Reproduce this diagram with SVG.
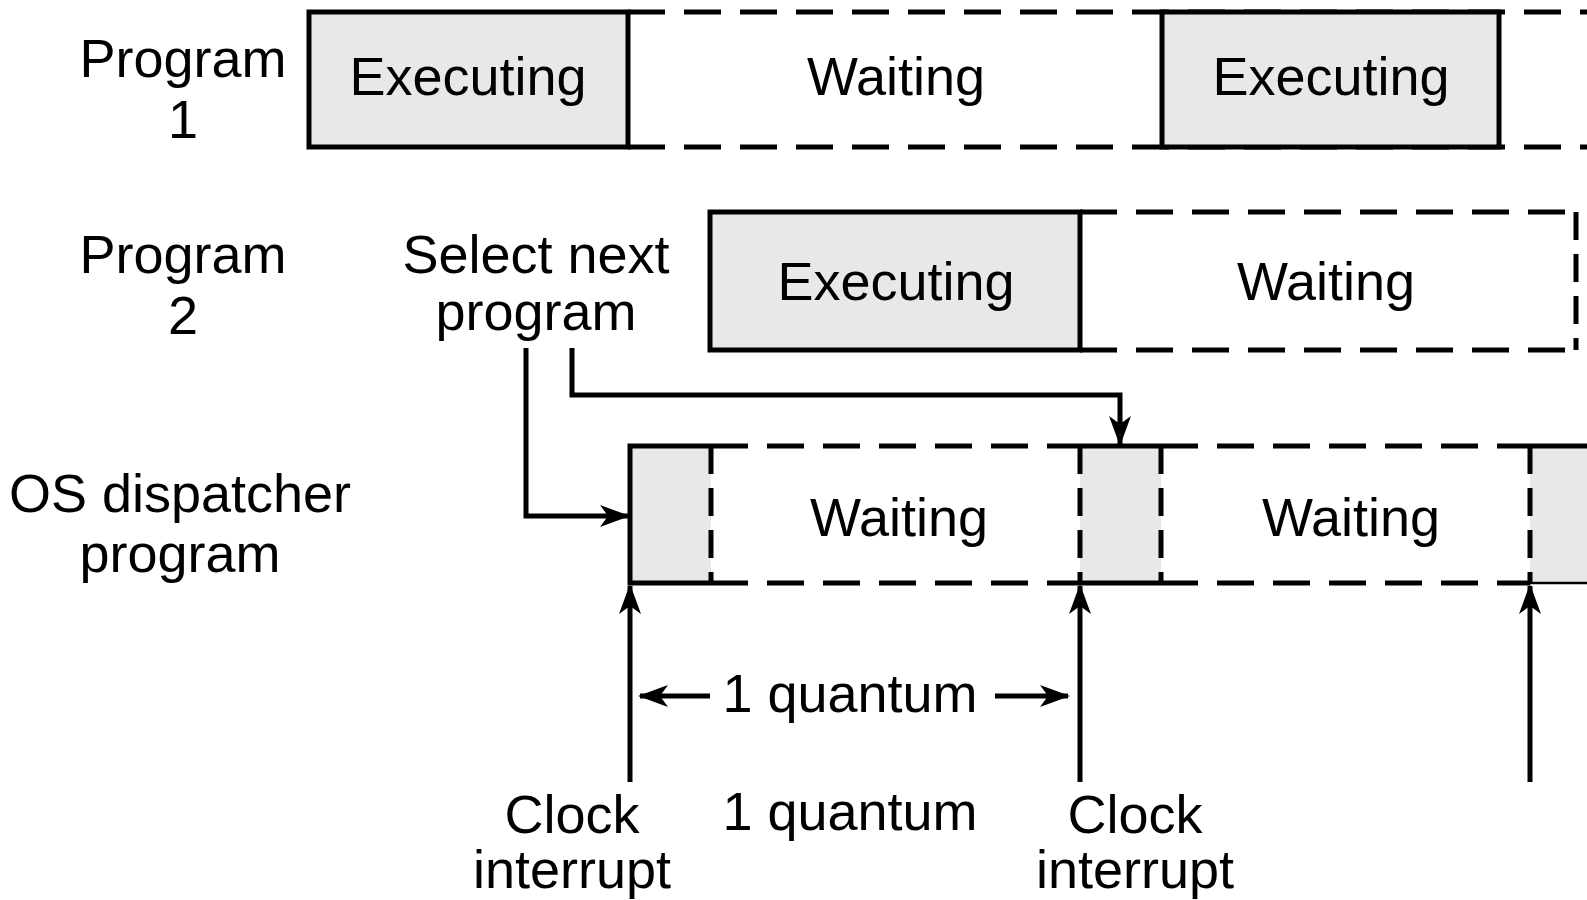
<svg xmlns="http://www.w3.org/2000/svg" width="1587" height="900" viewBox="0 0 1587 900">
<style>
text{font-family:"Liberation Sans",Arial,sans-serif;font-size:54px;fill:#000;text-anchor:middle}
.box{fill:#e8e8e8;stroke:#000;stroke-width:5}
.solid{stroke:#000;stroke-width:5;fill:none}
.dash{stroke:#000;stroke-width:5;fill:none;stroke-dasharray:37 19}
.vdash{stroke:#000;stroke-width:5;fill:none;stroke-dasharray:28 14}
.gray{fill:#e8e8e8;stroke:none}
.conn{stroke:#000;stroke-width:5;fill:none}
</style>
<defs>
<marker id="arr" viewBox="0 -12 30 24" refX="28" refY="0" markerWidth="30" markerHeight="24" markerUnits="userSpaceOnUse" orient="auto">
<path d="M30,0 L0,-11 L8,0 L0,11 Z" fill="#000"/>
</marker>
</defs>

<g id="labels">
<text x="183" y="77">Program</text>
<text x="183" y="138">1</text>
<text x="183" y="273">Program</text>
<text x="183" y="334">2</text>
<text x="180" y="512">OS dispatcher</text>
<text x="180" y="572">program</text>
</g>

<g id="program1">
<path class="dash" d="M628,12 H1587 M628,147 H1587"/>
<rect id="p1-exec1" class="box" x="309" y="12" width="319" height="135"/>
<text x="468" y="95">Executing</text>
<text x="896" y="95">Waiting</text>
<rect id="p1-exec2" class="box" x="1162" y="12" width="337" height="135"/>
<text x="1331" y="95">Executing</text>
</g>

<g id="program2">
<path class="dash" d="M1080,212 H1576 M1080,350 H1576"/>
<path class="vdash" d="M1576,212 V350"/>
<rect id="p2-exec" class="box" x="710" y="212" width="370" height="138"/>
<text x="896" y="300">Executing</text>
<text x="1326" y="300">Waiting</text>
</g>

<g id="select-next">
<text x="536" y="273">Select next</text>
<text x="536" y="330">program</text>
</g>

<g id="os-dispatcher">
<rect class="gray" x="630" y="446" width="81" height="137"/>
<rect class="gray" x="1080" y="446" width="81" height="137"/>
<rect class="gray" x="1530" y="446" width="57" height="137"/>
<path class="solid" d="M711,446 H630 V583 H711"/>
<path class="dash" d="M711,446 H1080 M711,583 H1080"/>
<path class="vdash" d="M711,446 V583"/>
<path class="solid" d="M1080,446 H1161 M1080,583 H1161"/>
<path class="vdash" d="M1080,446 V583 M1161,446 V583"/>
<path class="dash" d="M1161,446 H1530 M1161,583 H1530"/>
<path class="solid" d="M1530,446 H1587"/>
<path class="vdash" d="M1530,446 V583"/>
<path stroke="#000" stroke-width="2.5" d="M1530,583 H1587"/>
<text x="899" y="536">Waiting</text>
<text x="1351" y="536">Waiting</text>
</g>

<g id="connectors">
<path class="conn" d="M526,348 V516 H628" marker-end="url(#arr)"/>
<path class="conn" d="M572,348 V395 H1120 V444" marker-end="url(#arr)"/>
<path class="conn" d="M630,782 V586" marker-end="url(#arr)"/>
<path class="conn" d="M1080,782 V586" marker-end="url(#arr)"/>
<path class="conn" d="M1530,782 V586" marker-end="url(#arr)"/>
<path class="conn" d="M710,696 H640" marker-end="url(#arr)"/>
<path class="conn" d="M995,696 H1068" marker-end="url(#arr)"/>
</g>

<g id="quantum">
<text x="850" y="712">1 quantum</text>
<text x="850" y="830">1 quantum</text>
</g>

<g id="clock1">
<text x="572" y="833">Clock</text>
<text x="572" y="888">interrupt</text>
</g>
<g id="clock2">
<text x="1135" y="833">Clock</text>
<text x="1135" y="888">interrupt</text>
</g>
</svg>
